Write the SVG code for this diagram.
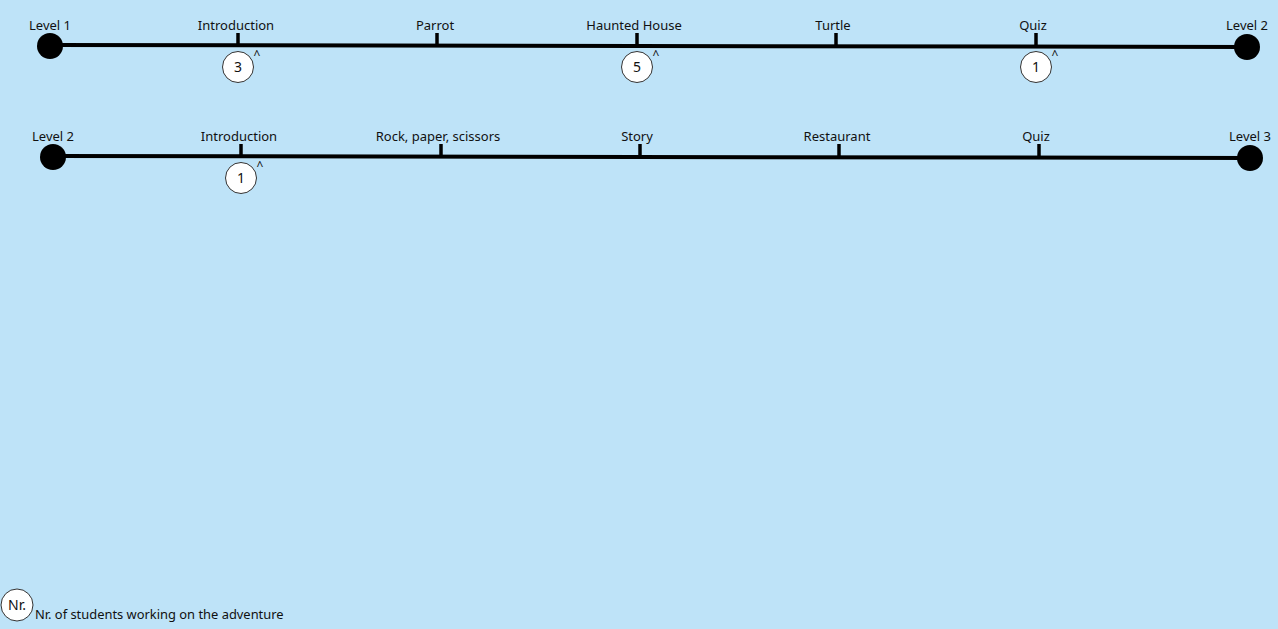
<svg xmlns="http://www.w3.org/2000/svg" width="1278" height="629" viewBox="0 0 1278 629">
<style>
text{font-family:"Noto Sans","Open Sans","DejaVu Sans",sans-serif;font-size:13px;fill:#111;text-anchor:middle}
.axis{stroke:#000;stroke-width:4;fill:none}
.tick{stroke:#000;stroke-width:3.5}
.end{fill:#000}
.badge{fill:#fff;stroke:#333;stroke-width:1}
.num{font-size:14px}
.caret{font-size:12px}
.leg{text-anchor:start;font-size:12.9px}
</style>
<rect width="1278" height="629" fill="#bee3f8"/>
<g id="connectors">
<path class="axis" d="M50 45 L1247 47"/>
<path class="axis" d="M53 156 L1250 158"/>
<line class="tick" x1="238" y1="33" x2="238" y2="45"/>
<line class="tick" x1="437" y1="33" x2="437" y2="46"/>
<line class="tick" x1="637" y1="33" x2="637" y2="46"/>
<line class="tick" x1="836" y1="33" x2="836" y2="46"/>
<line class="tick" x1="1036" y1="33" x2="1036" y2="47"/>
<line class="tick" x1="241" y1="144" x2="241" y2="156"/>
<line class="tick" x1="441" y1="144" x2="441" y2="157"/>
<line class="tick" x1="640" y1="144" x2="640" y2="157"/>
<line class="tick" x1="839" y1="144" x2="839" y2="157"/>
<line class="tick" x1="1039" y1="144" x2="1039" y2="158"/>
</g>
<g id="level1"><circle class="end" cx="50" cy="46" r="13"/><text x="50" y="30">Level 1</text></g>
<g id="l1-intro"><text x="236" y="30">Introduction</text></g>
<g id="l1-parrot"><text x="435" y="30">Parrot</text></g>
<g id="l1-haunted"><text x="634" y="30">Haunted House</text></g>
<g id="l1-turtle"><text x="833" y="30">Turtle</text></g>
<g id="l1-quiz"><text x="1033" y="30">Quiz</text></g>
<g id="level2a"><circle class="end" cx="1247" cy="47" r="13"/><text x="1247" y="30">Level 2</text></g>
<g id="badge-3"><circle class="badge" cx="238" cy="67" r="15.5"/><text class="num" x="238" y="72">3</text><text class="caret" x="257" y="59">^</text></g>
<g id="badge-5"><circle class="badge" cx="637" cy="67" r="15.5"/><text class="num" x="637" y="72">5</text><text class="caret" x="656" y="59">^</text></g>
<g id="badge-1a"><circle class="badge" cx="1036" cy="67" r="15.5"/><text class="num" x="1036" y="72">1</text><text class="caret" x="1055" y="59">^</text></g>
<g id="level2b"><circle class="end" cx="53" cy="157" r="13"/><text x="53" y="141">Level 2</text></g>
<g id="l2-intro"><text x="239" y="141">Introduction</text></g>
<g id="l2-rps"><text x="438" y="141">Rock, paper, scissors</text></g>
<g id="l2-story"><text x="637" y="141">Story</text></g>
<g id="l2-restaurant"><text x="837" y="141">Restaurant</text></g>
<g id="l2-quiz"><text x="1036" y="141">Quiz</text></g>
<g id="level3"><circle class="end" cx="1250" cy="158" r="13"/><text x="1250" y="141">Level 3</text></g>
<g id="badge-1b"><circle class="badge" cx="241" cy="178" r="15.5"/><text class="num" x="241" y="183">1</text><text class="caret" x="260" y="170">^</text></g>
<g id="legend"><circle class="badge" cx="17" cy="605" r="16"/><text class="num" x="17" y="610">Nr.</text><text class="leg" x="35" y="619">Nr. of students working on the adventure</text></g>
</svg>
